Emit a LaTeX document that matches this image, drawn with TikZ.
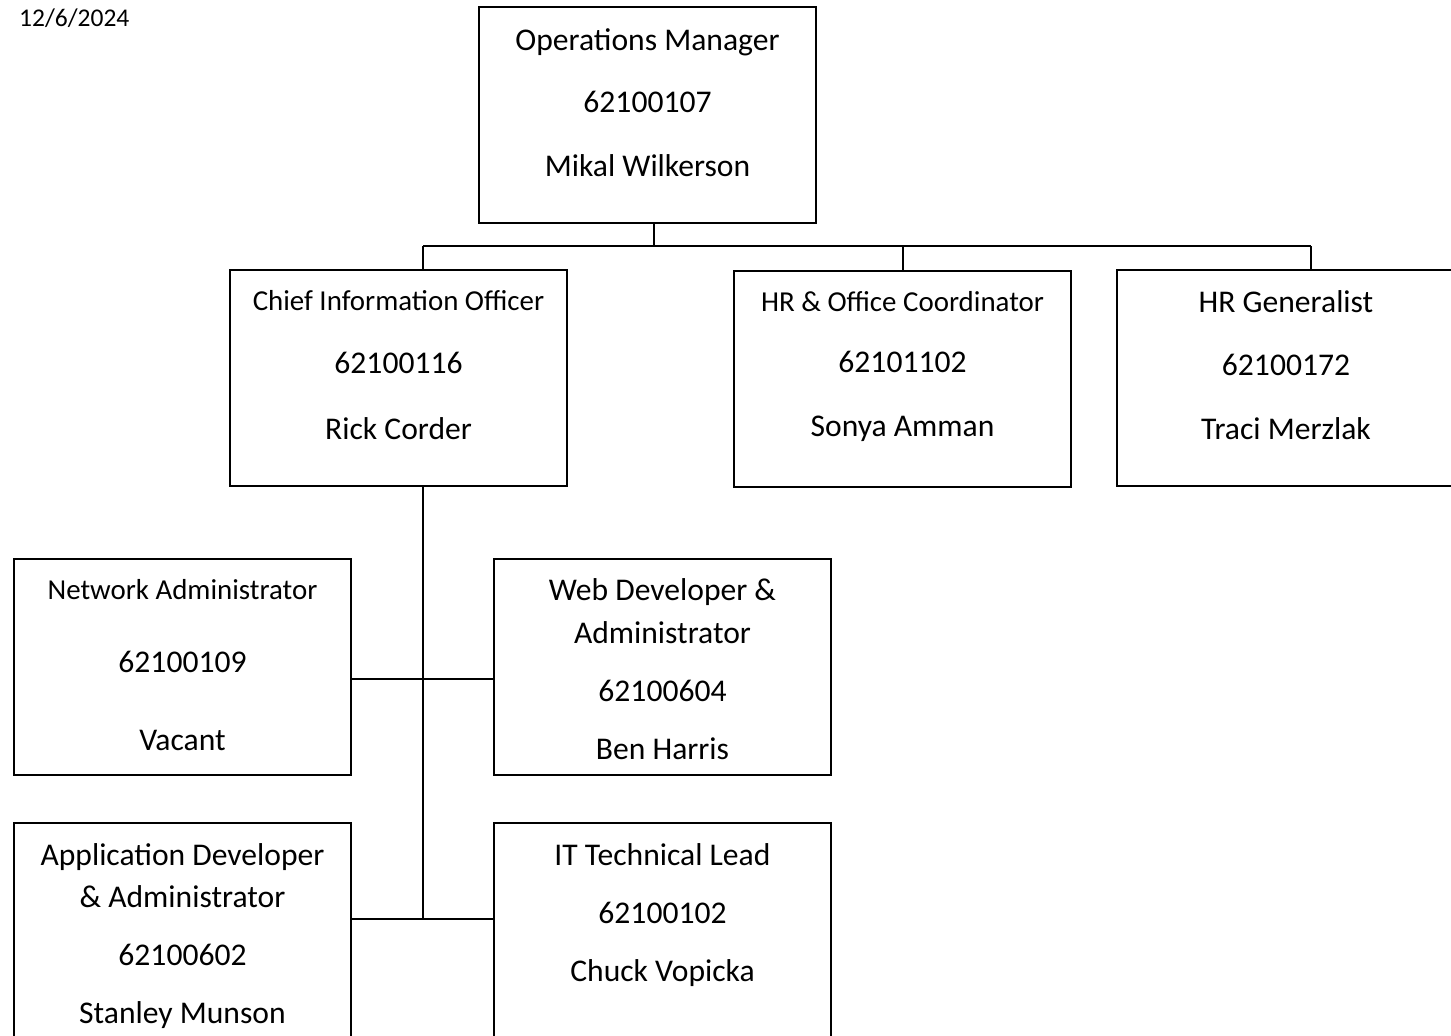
\documentclass[tikz,border=0pt]{standalone}
\usepackage{fontspec}
\setmainfont{Carlito}
\begin{document}
\begin{tikzpicture}[x=1pt,y=-1pt,
  box/.style={draw=black,line width=2pt,minimum width=337pt,minimum height=216pt,inner sep=0pt},
  conn/.style={draw=black,line width=2pt},
  big/.style={anchor=base,inner sep=0pt,font=\fontsize{31.6}{38}\selectfont},
  small/.style={anchor=base,inner sep=0pt,font=\fontsize{28.9}{35}\selectfont}]
\useasboundingbox (0,0) rectangle (1451,1036);
\clip (0,0) rectangle (1451,1036);
\fill[white] (0,0) rectangle (1451,1036);
% date
\node[anchor=base west,inner sep=0pt,font=\fontsize{25.5}{30}\selectfont] (date) at (19,26) {12/6/2024};
% boxes
\node[box] (om) at (647.5,114.5) {};
\node[box] (cio) at (398.5,378) {};
\node[box] (hro) at (902.5,379) {};
\node[box] (hrg) at (1285.5,378) {};
\node[box] (na) at (182.5,667) {};
\node[box] (wd) at (662.5,667) {};
\node[box] (ad) at (182.5,931) {};
\node[box] (it) at (662.5,931) {};
% texts
\node[big] (om1) at (647.5,50) {Operations Manager};
\node[big] (om2) at (647.5,112) {62100107};
\node[big] (om3) at (647.5,176) {Mikal Wilkerson};
\node[small] (cio1) at (398.5,310) {Chief Information Officer};
\node[big] (cio2) at (398.5,373) {62100116};
\node[big] (cio3) at (398.5,439) {Rick Corder};
\node[small] (hro1) at (902.5,311) {HR \& Office Coordinator};
\node[big] (hro2) at (902.5,372) {62101102};
\node[big] (hro3) at (902.5,436) {Sonya Amman};
\node[big] (hrg1) at (1286,312) {HR Generalist};
\node[big] (hrg2) at (1286,375) {62100172};
\node[big] (hrg3) at (1286,439) {Traci Merzlak};
\node[small] (na1) at (182.5,599) {Network Administrator};
\node[big] (na2) at (182.5,672) {62100109};
\node[big] (na3) at (182.5,750) {Vacant};
\node[big] (wd1) at (662.5,600) {Web Developer \&};
\node[big] (wd2) at (662.5,643) {Administrator};
\node[big] (wd3) at (662.5,701) {62100604};
\node[big] (wd4) at (662.5,759) {Ben Harris};
\node[big] (ad1) at (182.5,865) {Application Developer};
\node[big] (ad2) at (182.5,907) {\& Administrator};
\node[big] (ad3) at (182.5,965) {62100602};
\node[big] (ad4) at (182.5,1023) {Stanley Munson};
\node[big] (it1) at (662.5,865) {IT Technical Lead};
\node[big] (it2) at (662.5,923) {62100102};
\node[big] (it3) at (662.5,981) {Chuck Vopicka};
% connectors
\coordinate (top) at (654,246);
\coordinate (bl) at (423,246);
\coordinate (bm) at (903,246);
\coordinate (br) at (1311,246);
\coordinate (s1) at (423,679);
\coordinate (s2) at (423,919);
\draw[conn] (top |- om.south) -- (top);
\draw[conn] (bl) -- (br);
\draw[conn] (bl) -- (bl |- cio.north);
\draw[conn] (bm) -- (bm |- hro.north);
\draw[conn] (br) -- (br |- hrg.north);
\draw[conn] (s1 |- cio.south) -- (s2);
\draw[conn] (na.east |- s1) -- (wd.west |- s1);
\draw[conn] (ad.east |- s2) -- (it.west |- s2);
\end{tikzpicture}
\end{document}
